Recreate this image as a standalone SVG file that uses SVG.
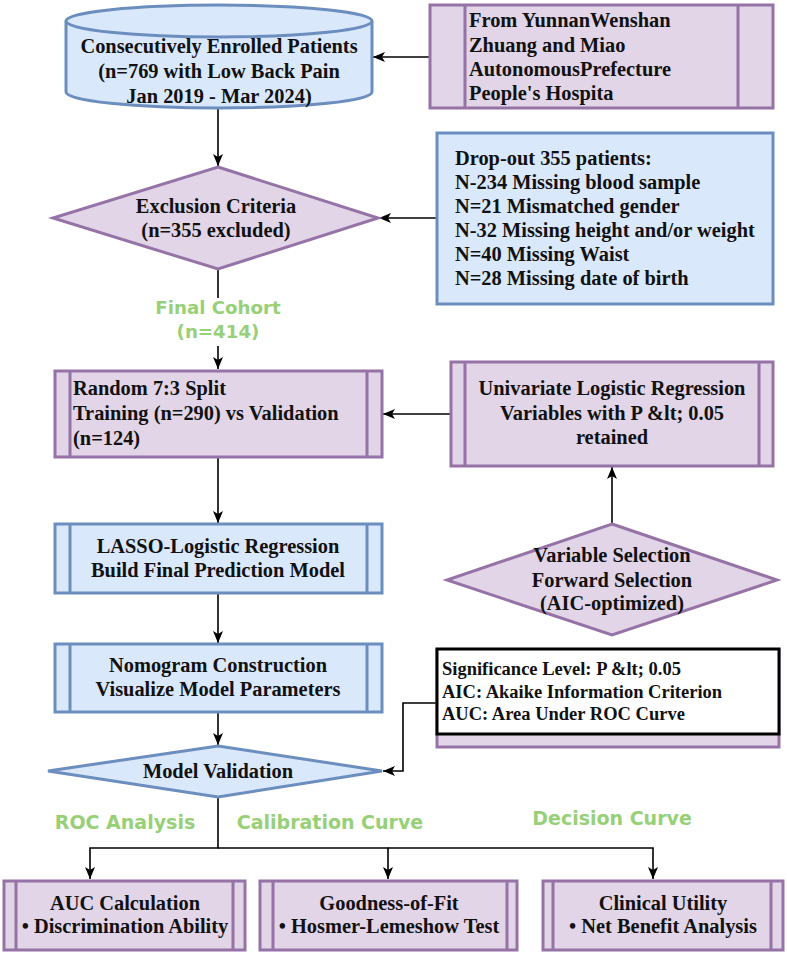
<svg xmlns="http://www.w3.org/2000/svg" width="787" height="955" viewBox="0 0 787 955">
<style>
.pu{fill:#e1d5e7;stroke:#9673a6;stroke-width:3}
.bl{fill:#dae8fc;stroke:#6c8ebf;stroke-width:3}
.in{fill:none;stroke-width:3}
.t{font-family:"Liberation Serif","Times New Roman",serif;font-weight:bold;font-size:20.4px;fill:#111}
.c{text-anchor:middle}
.g{font-family:"DejaVu Sans","Open Sans",sans-serif;font-weight:bold;font-size:19px;fill:#97d077;text-anchor:middle}
.ln{fill:none;stroke:#000;stroke-width:1.6}
</style>
<defs>
<marker id="ar" markerWidth="12" markerHeight="10" refX="12" refY="5" orient="auto" markerUnits="userSpaceOnUse">
<path d="M0,0 L12,5 L0,10 L3,5 z" fill="#000"/>
</marker>
</defs>

<g id="connectors">
<path class="ln" d="M430,57 L373,57" marker-end="url(#ar)"/>
<path class="ln" d="M218,108 L218,166" marker-end="url(#ar)"/>
<path class="ln" d="M437,218 L379,218" marker-end="url(#ar)"/>
<path class="ln" d="M218,269 L218,369" marker-end="url(#ar)"/>
<path class="ln" d="M451,414 L383,414" marker-end="url(#ar)"/>
<path class="ln" d="M218,457 L218,523" marker-end="url(#ar)"/>
<path class="ln" d="M612,524 L612,467" marker-end="url(#ar)"/>
<path class="ln" d="M218,593 L218,643" marker-end="url(#ar)"/>
<path class="ln" d="M218,712 L218,745" marker-end="url(#ar)"/>
<path class="ln" d="M437,703 L403,703 L403,771 L383,771" marker-end="url(#ar)"/>
<path class="ln" d="M218,797 L218,848 L90,848 L90,879" marker-end="url(#ar)"/>
<path class="ln" d="M218,848 L388,848 L388,879" marker-end="url(#ar)"/>
<path class="ln" d="M388,848 L653,848 L653,879" marker-end="url(#ar)"/>
<rect x="148" y="298" width="140" height="48" fill="#fff"/>
<text class="g" x="218" y="314" style="font-size:18.2px">Final Cohort</text>
<text class="g" x="218" y="338" style="font-size:18.2px">(n=414)</text>
<text class="g" x="125" y="829">ROC Analysis</text>
<text class="g" x="330" y="829">Calibration Curve</text>
<text class="g" x="612" y="825">Decision Curve</text>
</g>

<g id="enrolled">
<path class="bl" d="M66,21 L66,92 A153,16 0 0 0 372,92 L372,21"/>
<ellipse class="bl" cx="219" cy="21" rx="153" ry="16"/>
<text class="t c" x="219" y="53">Consecutively Enrolled Patients</text>
<text class="t c" x="219" y="78">(n=769 with Low Back Pain</text>
<text class="t c" x="219" y="103">Jan 2019 - Mar 2024)</text>
</g>

<g id="source">
<rect class="pu" x="430" y="5" width="343" height="103"/>
<path class="in" stroke="#9673a6" d="M465,5 V108 M738,5 V108"/>
<text class="t" x="469" y="27">From YunnanWenshan</text>
<text class="t" x="469" y="51.5">Zhuang and Miao</text>
<text class="t" x="469" y="76">AutonomousPrefecture</text>
<text class="t" x="469" y="100">People's Hospita</text>
</g>

<g id="exclusion">
<path class="pu" d="M218,167 L378,218 L218,269 L53,218 Z"/>
<text class="t c" x="216" y="213">Exclusion Criteria</text>
<text class="t c" x="216" y="237">(n=355 excluded)</text>
</g>

<g id="dropout">
<rect class="bl" x="437" y="133" width="336" height="171"/>
<text class="t" x="455" y="165">Drop-out 355 patients:</text>
<text class="t" x="455" y="189">N-234 Missing blood sample</text>
<text class="t" x="455" y="213">N=21 Mismatched gender</text>
<text class="t" x="455" y="237">N-32 Missing height and/or weight</text>
<text class="t" x="455" y="261">N=40 Missing Waist</text>
<text class="t" x="455" y="285">N=28 Missing date of birth</text>
</g>

<g id="split">
<rect class="pu" x="55" y="371" width="327" height="86"/>
<path class="in" stroke="#9673a6" d="M70,371 V457 M367,371 V457"/>
<text class="t" x="73" y="395">Random 7:3 Split</text>
<text class="t" x="73" y="420">Training (n=290) vs Validation</text>
<text class="t" x="73" y="445">(n=124)</text>
</g>

<g id="univariate">
<rect class="pu" x="451" y="362" width="322" height="104"/>
<path class="in" stroke="#9673a6" d="M465,362 V466 M759,362 V466"/>
<text class="t c" x="612" y="395">Univariate Logistic Regression</text>
<text class="t c" x="612" y="420">Variables with P &amp;lt; 0.05</text>
<text class="t c" x="612" y="444">retained</text>
</g>

<g id="varsel">
<path class="pu" d="M612,524 L777,580 L612,635 L447,580 Z"/>
<text class="t c" x="612" y="562">Variable Selection</text>
<text class="t c" x="612" y="587">Forward Selection</text>
<text class="t c" x="612" y="610">(AIC-optimized)</text>
</g>

<g id="lasso">
<rect class="bl" x="55" y="524" width="327" height="69"/>
<path class="in" stroke="#6c8ebf" d="M70,524 V593 M367,524 V593"/>
<text class="t c" x="218" y="553">LASSO-Logistic Regression</text>
<text class="t c" x="218" y="577">Build Final Prediction Model</text>
</g>

<g id="nomogram">
<rect class="bl" x="55" y="644" width="327" height="68"/>
<path class="in" stroke="#6c8ebf" d="M70,644 V712 M367,644 V712"/>
<text class="t c" x="218" y="672">Nomogram Construction</text>
<text class="t c" x="218" y="696">Visualize Model Parameters</text>
</g>

<g id="legend">
<rect class="pu" x="437" y="650" width="342" height="97"/>
<rect x="437" y="649" width="342" height="85" fill="#fff" stroke="#000" stroke-width="3"/>
<text class="t" x="442" y="675" style="font-size:18.5px">Significance Level: P &amp;lt; 0.05</text>
<text class="t" x="442" y="698" style="font-size:18.5px">AIC: Akaike Information Criterion</text>
<text class="t" x="442" y="720" style="font-size:18.5px">AUC: Area Under ROC Curve</text>
</g>

<g id="validation">
<path class="bl" d="M218,746 L382,771 L218,797 L48,771 Z"/>
<text class="t c" x="218" y="778">Model Validation</text>
</g>

<g id="auc">
<rect class="pu" x="4" y="881" width="241" height="69"/>
<path class="in" stroke="#9673a6" d="M16,881 V950 M233,881 V950"/>
<text class="t c" x="125" y="910">AUC Calculation</text>
<text class="t c" x="125" y="933">• Discrimination Ability</text>
</g>

<g id="gof">
<rect class="pu" x="260" y="881" width="257" height="69"/>
<path class="in" stroke="#9673a6" d="M273,881 V950 M507,881 V950"/>
<text class="t c" x="389" y="910">Goodness-of-Fit</text>
<text class="t c" x="389" y="933">• Hosmer-Lemeshow Test</text>
</g>

<g id="utility">
<rect class="pu" x="543" y="881" width="240" height="69"/>
<path class="in" stroke="#9673a6" d="M553,881 V950 M771,881 V950"/>
<text class="t c" x="663" y="910">Clinical Utility</text>
<text class="t c" x="663" y="933">• Net Benefit Analysis</text>
</g>
</svg>
